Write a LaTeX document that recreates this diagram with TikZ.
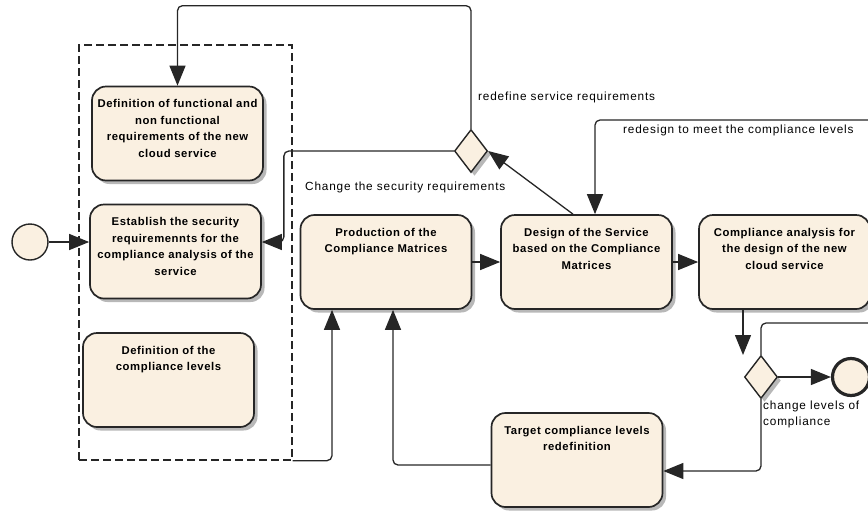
\documentclass[tikz,border=0pt]{standalone}
\usepackage{fontspec}
\setmainfont{Liberation Sans}
\newfontfamily\taskfont[LetterSpace=5]{Liberation Sans}
\newfontfamily\lblfont[LetterSpace=7]{Liberation Sans}
\usetikzlibrary{arrows.meta,shapes.geometric,shadows}

\definecolor{taskfill}{RGB}{250,240,225}

% text block of a task, set from the top of the box
\newcommand{\tasktext}[2][68pt]{\parbox[c][#1][t]{170pt}{\centering\taskfont\bfseries\fontsize{11.3}{16.6}\selectfont #2}}

\begin{document}
\begin{tikzpicture}
		[x=1pt,y=-1pt,
		shade/.style={drop shadow={shadow xshift=3.5pt,shadow yshift=-3.5pt,fill=black!28,opacity=1}},
		task/.style={rectangle,rounded corners=14pt,draw=black!85,line width=1.7pt,fill=taskfill,
			minimum width=171pt,minimum height=94pt,inner sep=0pt,shade},
		gate/.style={diamond,draw=black!85,line width=1.4pt,fill=taskfill,minimum width=33pt,minimum height=43pt,inner sep=0pt,shade},
		event/.style={circle,draw=black!85,line width=1.4pt,fill=taskfill,minimum size=36pt,inner sep=0pt},
		flow/.style={-{Triangle[length=20pt,width=16pt]},line width=1.3pt,draw=black!85,rounded corners=5pt},
		line/.style={line width=1.3pt,draw=black!85,rounded corners=5pt},
		lbl/.style={font=\lblfont\fontsize{11.8}{16}\selectfont,inner sep=0pt}]

		\useasboundingbox (0,0) rectangle (868,512);

		% group of the requirement tasks
		\node[draw=black!85,dash pattern=on 8pt off 4pt,line width=1.3pt,minimum width=213pt,minimum height=415pt,inner sep=0pt] (grp) at (185.5,252.5) {};

		\node[task] (n1) at (177.5,133.5) {\tasktext{Definition of functional and\\ non functional\\ requirements of the new\\ cloud service}};
		\node[task] (n2) at (175.5,251.5) {\tasktext{Establish the security\\ requiremennts for the\\ compliance analysis of the\\ service}};
		\node[task] (n3) at (168.5,380) {\tasktext{Definition of the\\ compliance levels}};

		\node[event] (start) at (30,242) {};

		\node[task] (prod) at (386,262) {\tasktext{Production of the\\ Compliance Matrices}};
		\node[task] (design) at (586.5,262) {\tasktext{Design of the Service\\ based on the Compliance\\ Matrices}};
		\node[task] (check) at (784.5,262) {\tasktext{Compliance analysis for\\ the design of the new\\ cloud service}};
		\node[task] (target) at (577,460) {\tasktext{Target compliance levels\\ redefinition}};

		\node[gate] (gA) at (471,151) {};
		\node[gate] (gB) at (761,377) {};
		\node[event,line width=3.2pt,minimum size=37pt] (stop) at (851,377) {};

		% loose ends leaving the page
		\coordinate (rd) at (880,120);
		\coordinate (rl) at (880,323);
		\coordinate (gBin) at (743,355);

		\node[lbl,anchor=west] (l1) at (478,97) {redefine service requirements};
		\node[lbl,anchor=west] (l2) at (305,187) {Change the security requirements};
		\node[lbl,anchor=west] (l3) at (623,130) {redesign to meet the compliance levels};
		\node[lbl,anchor=north west,align=left] (l4) at (763,401) {change levels of\\ compliance};

		\draw[flow] (start) -- (n2.west |- start);
		\draw[flow] (gA.north) |- ([yshift=80pt]n1.north) -- (n1.north);
		\draw[flow] (gA.west) -| ([xshift=22pt]n2.east |- start) -- (n2.east |- start);
		\draw[flow] ([xshift=-13.5pt]design.north) -- (gA.east);
		\draw[flow] (rd) -| ([xshift=8.5pt]design.north);
		\draw[flow] (prod) -- (design);
		\draw[flow] (design) -- (check);
		\draw[flow] (check.south -| gBin) -- (gBin);
		\draw[line] (gB.north) |- (rl);
		\draw[flow] (gB.east) -- (stop.west);
		\draw[flow] (gB.south) |- ([yshift=-11pt]target.east);
		\draw[flow] ([yshift=-5pt]target.west) -| ([xshift=7pt]prod.south);
		\draw[flow] (grp.south east) -| ([xshift=-54pt]prod.south);

	\end{tikzpicture}
\end{document}
